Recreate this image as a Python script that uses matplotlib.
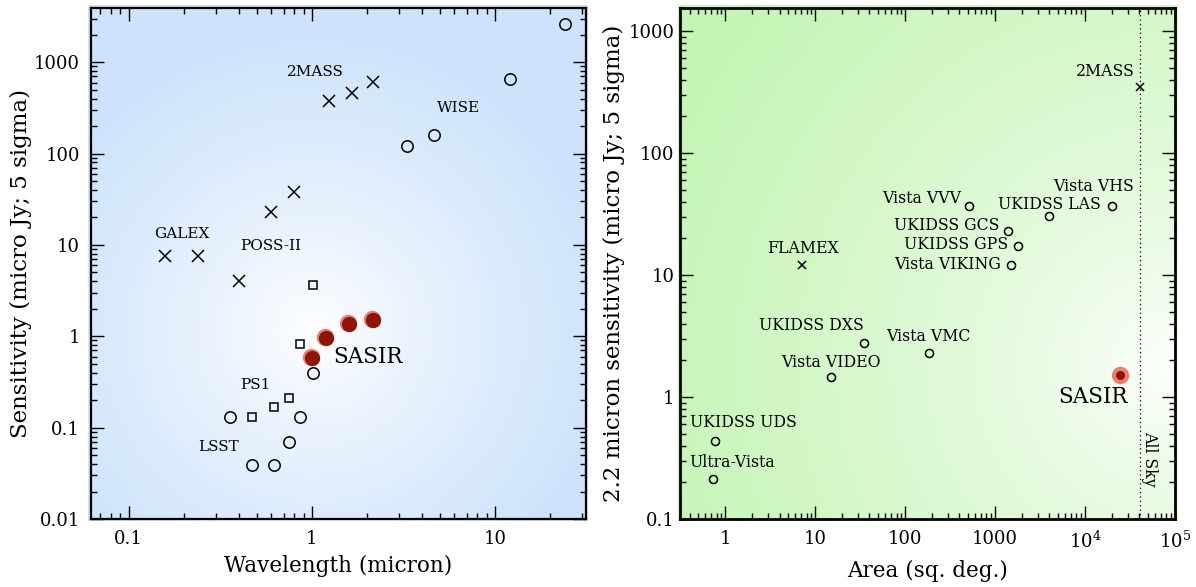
import numpy as np
import matplotlib
matplotlib.use("Agg")
from matplotlib import pyplot as plt
from matplotlib.ticker import FixedLocator, FixedFormatter, LogLocator, NullFormatter
from matplotlib.transforms import offset_copy

plt.rcParams['font.family'] = ['DejaVu Serif']
plt.rcParams['mathtext.fontset'] = 'dejavuserif'

# ---- left panel: wavelength (micron) vs sensitivity (micro Jy, 5 sigma)
galex_wl = [0.157, 0.239]
galex_s = [7.5, 7.5]
poss_wl = [0.40, 0.60, 0.80]
poss_s = [4.0, 23.0, 38.0]
tmass_wl = [1.24, 1.65, 2.16]
tmass_s = [380, 457, 605]
wise_wl = [3.3, 4.66, 12.0, 24.0]
wise_s = [121, 161, 653, 2600]
ps1_wl = [0.472, 0.62, 0.75, 0.865, 1.01]
ps1_s = [0.13, 0.169, 0.209, 0.82, 3.66]
lsst_wl = [0.357, 0.472, 0.62, 0.75, 0.865, 1.01]
lsst_s = [0.13, 0.0394, 0.0394, 0.0697, 0.13, 0.395]
sasir_wl = [1.0, 1.19, 1.6, 2.16]
sasir_s = [0.58, 0.958, 1.35, 1.5]

left_names = ["GALEX", "POSS-II", "2MASS", "WISE", "PS1", "LSST"]
left_name_x = [0.194, 0.597, 1.04, 6.3, 0.494, 0.308]
left_name_y = [13.2, 9.8, 788, 314, 0.294, 0.0614]

# ---- right panel: area (sq. deg.) vs 2.2 micron sensitivity
survey_names = ["UKIDSS UDS", "Ultra-Vista", "Vista VIDEO", "UKIDSS DXS",
                "Vista VMC", "Vista VVV", "UKIDSS GCS", "UKIDSS GPS",
                "Vista VIKING", "UKIDSS LAS", "Vista VHS"]
survey_area = [0.77, 0.72, 15.0, 35.0, 182, 515, 1400, 1810, 1510, 4000, 20000]
survey_k = [0.44, 0.212, 1.47, 2.75, 2.31, 36.5, 22.9, 17.4, 12.0, 30.3, 36.5]
cross_names = ["FLAMEX", "2MASS"]
cross_area = [7.2, 41253]
cross_k = [12.0, 347]
sasir_area = [24700]
sasir_k = [1.52]
all_sky = 41253

# label offsets in points and alignment (style only)
survey_offsets = [(-18, 13, "left"), (-16.5, 12, "left"), (0, 10.5, "center"),
                  (0, 13, "right"), (0, 11.5, "center"), (-5.5, 6, "right"),
                  (-6.5, 4, "right"), (-7, 0.5, "right"), (-7, 0.5, "right"),
                  (0, 8.6, "center"), (16, 14.2, "right")]
cross_offsets = [(0, 12.3, "center"), (-4, 11.5, "right")]

W, H = 1196, 587
fig = plt.figure(figsize=(W / 100, H / 100), dpi=100)

top_px, bot_px = 7.5, 519
ax_h = (bot_px - top_px) / H
ax_b = (H - bot_px) / H


def gradient_bg(rect, center, radius, edge, power):
    bg = fig.add_axes(rect, zorder=0)
    w = int(rect[2] * W)
    h = int(rect[3] * H)
    yy, xx = np.mgrid[0:h, 0:w]
    cx = center[0] * w
    cy = (1 - center[1]) * h
    t = np.clip(np.hypot(xx - cx, yy - cy) / radius, 0, 1) ** power
    edge = np.array(edge) / 255.0
    img = (1 - t)[..., None] * np.ones(3) + t[..., None] * edge
    bg.imshow(img, aspect='auto', extent=(0, 1, 0, 1), interpolation='bilinear')
    bg.axis('off')


def style_axes(ax, spine_w, ylabel_pad):
    ax.set_xscale('log')
    ax.set_yscale('log')
    ax.set_facecolor('none')
    for s in ax.spines.values():
        s.set_linewidth(spine_w)
    ax.tick_params(which='both', direction='in', top=True, right=True, width=1.0,
                   labelsize=13)
    ax.tick_params(which='major', length=9.5)
    ax.tick_params(which='minor', length=4.5)
    ax.tick_params(axis='x', pad=8)
    ax.tick_params(axis='y', pad=ylabel_pad)
    ax.xaxis.set_minor_locator(LogLocator(base=10, subs=np.arange(2, 10), numticks=30))
    ax.yaxis.set_minor_locator(LogLocator(base=10, subs=np.arange(2, 10), numticks=30))
    ax.xaxis.set_minor_formatter(NullFormatter())
    ax.yaxis.set_minor_formatter(NullFormatter())


# ================= left panel =================
l_left, l_w = 91 / W, 495 / W
gradient_bg([88 / W, ax_b - 2.5 / H, 500 / W, ax_h + 5 / H], (0.45, 0.37), 300,
            (205, 227, 251), 0.8)
ax1 = fig.add_axes([l_left, ax_b, l_w, ax_h], zorder=1)
style_axes(ax1, 1.6, 8)

mk = dict(color='black', linestyle='none')
ax1.plot(galex_wl, galex_s, marker='x', ms=8, mew=1.1, **mk)
ax1.plot(poss_wl, poss_s, marker='x', ms=8, mew=1.1, **mk)
ax1.plot(tmass_wl, tmass_s, marker='x', ms=8, mew=1.1, **mk)
ax1.plot(wise_wl, wise_s, marker='o', ms=8.2, mfc='none', mew=1.1, **mk)
ax1.plot(ps1_wl, ps1_s, marker='s', ms=5.3, mfc='none', mew=1.1, **mk)
ax1.plot(lsst_wl, lsst_s, marker='o', ms=8.2, mfc='none', mew=1.1, **mk)
halo = offset_copy(ax1.transData, fig=fig, x=-0.8, y=0.8, units='points')
ax1.plot(sasir_wl, sasir_s, marker='o', ms=12.5, mfc='#f27d6c', mec='none',
         linestyle='none', transform=halo)
ax1.plot(sasir_wl, sasir_s, marker='o', ms=11, mfc='#8e1606', mec='none',
         linestyle='none')

for name, x, y in zip(left_names, left_name_x, left_name_y):
    ax1.text(x, y, name, fontsize=11, ha='center', va='center')
ax1.text(1.31, 0.59, "SASIR", fontsize=15.5, ha='left', va='center')

ax1.set_xlim(0.0622, 31.4)
ax1.set_ylim(0.01, 3980)
ax1.xaxis.set_major_locator(FixedLocator([0.1, 1, 10]))
ax1.xaxis.set_major_formatter(FixedFormatter(["0.1", "1", "10"]))
ax1.yaxis.set_major_locator(FixedLocator([0.01, 0.1, 1, 10, 100, 1000]))
ax1.yaxis.set_major_formatter(FixedFormatter(["0.01", "0.1", "1", "10", "100", "1000"]))
ax1.set_xlabel("Wavelength (micron)", fontsize=15.5)
ax1.set_ylabel("Sensitivity (micro Jy; 5 sigma)", fontsize=16.5)
ax1.xaxis.set_label_coords(0.5, -0.07)
ax1.yaxis.set_label_coords(-0.12, 0.5)

# ================= right panel =================
r_left, r_w = 680 / W, 495 / W
gradient_bg([678 / W, ax_b - 2.5 / H, 500 / W, ax_h + 5 / H], (0.98, 0.3), 560,
            (196, 245, 180), 0.7)
ax2 = fig.add_axes([r_left, ax_b, r_w, ax_h], zorder=1)
style_axes(ax2, 2.0, 4)

ax2.axvline(all_sky, color='black', linestyle=(0, (1, 2.5)), linewidth=0.9)
ax2.plot(survey_area, survey_k, marker='o', ms=5.8, mfc='none', mew=1.1, **mk)
ax2.plot(cross_area, cross_k, marker='x', ms=6.2, mew=1.1, **mk)
ax2.plot(sasir_area, sasir_k, marker='o', ms=12.5, mfc='#f27d6c', mec='none',
         linestyle='none')
ax2.plot(sasir_area, sasir_k, marker='o', ms=6.5, mfc='#8e1606', mec='none',
         linestyle='none')

for name, x, y, (dx, dy, ha) in zip(survey_names, survey_area, survey_k, survey_offsets):
    ax2.annotate(name, (x, y), xytext=(dx, dy), textcoords='offset points',
                 fontsize=11.3, ha=ha, va='center')
for name, x, y, (dx, dy, ha) in zip(cross_names, cross_area, cross_k, cross_offsets):
    ax2.annotate(name, (x, y), xytext=(dx, dy), textcoords='offset points',
                 fontsize=11.3, ha=ha, va='center')
ax2.annotate("SASIR", (sasir_area[0], sasir_k[0]), xytext=(5, -16),
             textcoords='offset points', fontsize=15.5, ha='right', va='center')
ax2.annotate("All Sky", (all_sky, 0.311), xytext=(6.5, 0), textcoords='offset points',
             fontsize=11.3, rotation=270, ha='center', va='center')

ax2.set_xlim(0.313, 1e5)
ax2.set_ylim(0.1, 1560)
ax2.xaxis.set_major_locator(FixedLocator([1, 10, 100, 1000, 1e4, 1e5]))
ax2.xaxis.set_major_formatter(FixedFormatter(["1", "10", "100", "1000",
                                              r"$10^4$", r"$10^5$"]))
ax2.yaxis.set_major_locator(FixedLocator([0.1, 1, 10, 100, 1000]))
ax2.yaxis.set_major_formatter(FixedFormatter(["0.1", "1", "10", "100", "1000"]))
ax2.set_xlabel("Area (sq. deg.)", fontsize=15.5)
ax2.set_ylabel("2.2 micron sensitivity (micro Jy; 5 sigma)", fontsize=16.5)
ax2.xaxis.set_label_coords(0.5, -0.08)
ax2.yaxis.set_label_coords(-0.112, 0.5)

fig.savefig("out.png", dpi=100)
